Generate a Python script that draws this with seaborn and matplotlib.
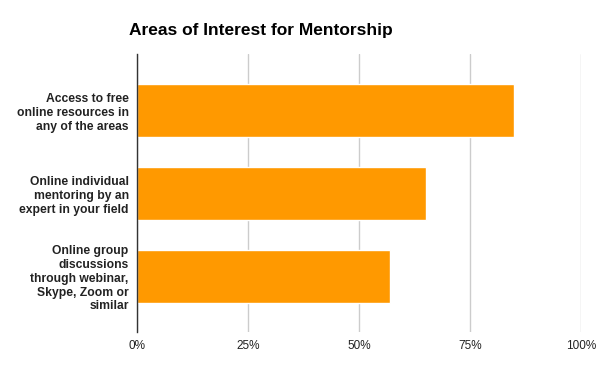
import matplotlib
matplotlib.use("Agg")
import matplotlib.pyplot as plt
import seaborn as sns
import pandas as pd
from matplotlib.ticker import FixedLocator

categories = [
    "Access to free\nonline resources in\nany of the areas",
    "Online individual\nmentoring by an\nexpert in your field",
    "Online group\ndiscussions\nthrough webinar,\nSkype, Zoom or\nsimilar",
]
values = [85.0, 65.0, 57.0]
xticks = [0, 25, 50, 75, 100]
xtick_labels = ["0%", "25%", "50%", "75%", "100%"]
title = "Areas of Interest for Mentorship"

sns.set_theme(style="white")
plt.rcParams["font.family"] = ["Liberation Sans", "DejaVu Sans"]

df = pd.DataFrame({"category": categories, "value": values})

fig = plt.figure(figsize=(6, 3.71), dpi=100)
ax = fig.add_axes([137/600, 1-332/371, 444/600, 278/371])

sns.barplot(data=df, y="category", x="value", orient="h", color="#FF9900",
            saturation=1, width=0.64, ax=ax)

ax.set_xlim(0, 100)
ax.set_ylim(2.67, -0.68)
ax.xaxis.set_major_locator(FixedLocator(xticks))
ax.set_xticklabels(xtick_labels, fontsize=8.5, color="#222222")
ax.grid(axis="x", color="#CCCCCC", linewidth=1)
ax.set_axisbelow(True)
for s in ["top", "right", "bottom"]:
    ax.spines[s].set_visible(False)
ax.spines["left"].set_color("#333333")
ax.spines["left"].set_linewidth(1)
ax.spines["left"].set_zorder(5)
ax.tick_params(axis="both", length=0)
ax.tick_params(axis="x", pad=6)
ax.tick_params(axis="y", pad=6)
for lbl in ax.get_yticklabels():
    lbl.set_fontweight("bold")
    lbl.set_fontsize(8.7)
    lbl.set_color("#222222")
    lbl.set_linespacing(1.2)
ax.set_xlabel("")
ax.set_ylabel("")

fig.text(261/600, 1-31/371, title, ha="center", va="center",
         fontsize=12.5, fontweight="bold", color="#000000")

fig.savefig("out.png", dpi=100, facecolor="white")
